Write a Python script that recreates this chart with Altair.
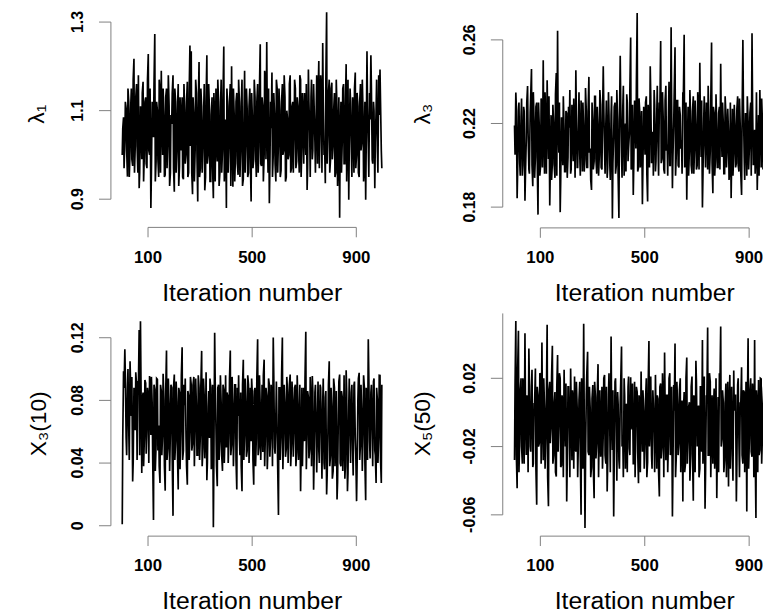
import altair as alt
import pandas as pd

# ---------------- data ----------------
# two interleaved thinnings of the 1000-iteration chains
iterations_a = list(range(1, 1000, 5))
iterations_b = list(range(3, 1000, 5))

# lambda_1, in units of 0.001
lambda1_a = [
    1000, 1085, 1030, 1105, 951, 1120, 1010, 1150, 975, 1217,
    1020, 1160, 960, 925, 1110, 990, 1165, 1005, 1130, 970,
    1228, 1000, 880, 1120, 1040, 1273, 985, 1100, 950, 1140,
    1190, 1000, 1090, 955, 1150, 1030, 1110, 960, 1070, 1180,
    917, 1120, 1010, 1160, 975, 1080, 1130, 945, 1100, 1000,
    1165, 960, 1247, 1234, 911, 1090, 1010, 1140, 895, 1210,
    970, 1110, 1020, 1160, 950, 1225, 1000, 1100, 940, 1130,
    902, 1080, 1150, 985, 1120, 960, 1170, 1010, 1245, 990,
    880, 1110, 1020, 1160, 1200, 928, 1090, 1000, 1140, 955,
    1120, 1010, 1170, 945, 1190, 1030, 1100, 960, 1150, 895,
    1080, 990, 1130, 950, 1160, 1020, 1250, 975, 1110, 1000,
    1170, 1255, 960, 891, 1120, 1186, 1000, 1090, 940, 1150,
    1030, 1100, 965, 1160, 1010, 1130, 950, 1080, 1000, 1180,
    970, 1120, 1040, 1150, 985, 1110, 960, 1170, 1020, 1090,
    1140, 1000, 921, 1193, 1050, 1130, 990, 1160, 1030, 1100,
    980, 1212, 1060, 1140, 1253, 1000, 936, 1322, 1050, 1170,
    990, 1163, 1020, 1140, 960, 1100, 1000, 858, 1120, 1030,
    1160, 980, 1205, 1040, 899, 1150, 1010, 1130, 960, 1186,
    1000, 1110, 950, 1160, 1030, 1090, 975, 899, 1234, 1020,
    1140, 1225, 990, 1120, 925, 1100, 1010, 1180, 1193, 1010,
]
lambda1_b = [
    1060, 970, 1120, 1010, 1150, 950, 1100, 990, 1170, 960,
    1130, 1020, 1180, 960, 1070, 1140, 940, 1120, 980, 1170,
    1010, 1150, 960, 1080, 1160, 940, 1120, 990, 1170, 960,
    1080, 1150, 950, 1130, 970, 1180, 930, 1090, 1140, 970,
    1150, 960, 1100, 930, 1130, 1010, 950, 1160, 980, 1120,
    950, 1140, 1020, 960, 1130, 940, 1170, 1000, 1110, 950,
    1150, 960, 1080, 920, 1120, 980, 1160, 940, 1090, 970,
    1140, 940, 1030, 1170, 930, 1100, 960, 1130, 940, 1080,
    1150, 960, 1120, 930, 1040, 1150, 940, 1120, 980, 1170,
    950, 1110, 930, 1060, 960, 1150, 950, 1110, 990, 1140,
    970, 1170, 1010, 1120, 960, 1150, 980, 1130, 940, 1190,
    990, 1080, 1150, 970, 1060, 950, 1140, 980, 1170, 960,
    1150, 950, 1120, 1000, 1180, 940, 1100, 990, 1160, 960,
    1110, 960, 1170, 970, 1130, 1010, 1180, 950, 1140, 980,
    1060, 1160, 970, 1120, 950, 1170, 1010, 1110, 960, 1180,
    1130, 970, 1180, 960, 1120, 1030, 1170, 980, 1140, 960,
    1150, 990, 1100, 950, 1170, 930, 1130, 1030, 960, 1150,
    980, 1110, 940, 1170, 1020, 1120, 950, 1080, 1150, 970,
    1140, 960, 1120, 1010, 1170, 940, 1120, 1020, 1110, 950,
    1080, 1150, 980, 1100, 1030, 1170, 960, 1090, 1120, 970,
]

# lambda_3, in units of 0.0001
lambda3_a = [
    2190, 2348, 1843, 2260, 2010, 2230, 1950, 2280, 1830, 2120,
    2379, 1980, 2250, 2461, 1900, 2210, 2040, 2300, 1764, 2180,
    2000, 2270, 2502, 1960, 2150, 2407, 2030, 1808, 2240, 2010,
    2200, 1940, 2442, 2644, 2060, 1776, 2230, 2000, 2160, 1970,
    2250, 2040, 2180, 1960, 2290, 2020, 2140, 2455, 1990, 2200,
    2050, 2310, 1970, 2170, 2030, 2260, 1990, 2423, 2080, 1882,
    2210, 2020, 2330, 1960, 2180, 2050, 2290, 1980, 2474, 2070,
    2200, 1940, 2350, 2010, 2240, 1745, 2150, 2300, 2000, 2220,
    1748, 2524, 2060, 2280, 1950, 2200, 2340, 2020, 2150, 2611,
    2000, 1858, 2310, 2080, 2729, 1990, 2250, 2120, 1814, 2280,
    2050, 2330, 1827, 2200, 2474, 2010, 2160, 2360, 1970, 2240,
    2090, 2300, 2595, 2030, 2210, 1960, 2380, 2100, 2250, 2000,
    2660, 1890, 2200, 2565, 2060, 2310, 1990, 2240, 2120, 2350,
    2624, 2010, 1835, 2280, 2070, 2210, 1960, 2330, 2090, 2180,
    2000, 2260, 2490, 2040, 1798, 2220, 2100, 2300, 1980, 2190,
    2070, 2587, 1866, 2250, 2030, 2170, 1990, 2280, 2486, 2040,
    2200, 1960, 2240, 2080, 2150, 1990, 1843, 2270, 2060, 2190,
    2010, 2330, 1970, 2180, 1858, 2600, 2040, 2250, 1950, 2210,
    2090, 2300, 2632, 2000, 2170, 2060, 1882, 2240, 2360, 1990,
    2200, 2050, 2310, 1970, 2150, 2080, 2260, 1990, 2180, 2040,
]
lambda3_b = [
    2050, 2280, 1980, 2300, 1950, 2320, 2000, 2260, 1960, 2300,
    2150, 1960, 2330, 2000, 2350, 1940, 2280, 2020, 2300, 1950,
    2320, 1990, 2150, 2350, 1960, 2240, 2330, 1980, 1930, 2290,
    2000, 2340, 1950, 2200, 2300, 1930, 2120, 2330, 1970, 2260,
    1940, 2280, 2360, 1980, 2150, 2320, 1940, 2240, 1990, 2350,
    1950, 2220, 2300, 1970, 2370, 1990, 2260, 2060, 1930, 2300,
    1980, 2330, 2030, 2280, 1950, 2360, 1990, 2200, 2280, 1960,
    2310, 1990, 2240, 1930, 2330, 2010, 2280, 1960, 2360, 1950,
    2200, 2300, 1940, 2380, 2030, 1970, 2300, 2080, 2370, 1980,
    2290, 2010, 2260, 2400, 1970, 2320, 1990, 2260, 2000, 2200,
    2300, 1960, 2290, 1990, 2330, 2060, 1950, 2290, 2020, 2380,
    1950, 2270, 2010, 2350, 1980, 2310, 2070, 1950, 2400, 2000,
    2300, 2040, 2360, 1950, 2310, 2000, 2280, 2080, 1960, 2330,
    1990, 2300, 2060, 1950, 2360, 2000, 2260, 1960, 2310, 1980,
    2350, 1980, 2240, 2310, 1950, 2330, 1990, 2220, 2380, 1960,
    2300, 2010, 2280, 1950, 2340, 1990, 2250, 1980, 2210, 2300,
    1960, 2330, 1990, 2270, 1930, 2300, 2030, 1950, 2290, 1990,
    2270, 2000, 2320, 1960, 2230, 2290, 1930, 2210, 2330, 1980,
    2250, 1950, 2300, 2050, 1960, 2350, 2010, 1950, 2220, 2320,
    1980, 2290, 2010, 2270, 1950, 2330, 1990, 2220, 2280, 1970,
]

# X_3(10), in units of 0.0001
x3_10_a = [
    10, 986, 1127, 560, 870, 620, 1050, 700, 283, 880,
    610, 900, 923, 1250, 1305, 336, 850, 560, 910, 640,
    820, 955, 580, 780, 36, 870, 520, 934, 640, 273,
    860, 590, 800, 224, 1118, 500, 760, 610, 880, 63,
    965, 540, 790, 231, 850, 600, 1139, 480, 770, 560,
    262, 830, 600, 900, 520, 950, 640, 760, 450, 880,
    580, 1116, 500, 820, 610, 290, 760, 560, 880, 520,
    -10, 1232, 620, 252, 900, 540, 780, 350, 870, 600,
    500, 830, 580, 1118, 520, 760, 610, 900, 231, 700,
    560, 850, 220, 1060, 590, 780, 480, 900, 620, 540,
    820, 262, 880, 560, 1190, 500, 760, 640, 470, 1060,
    600, 830, 520, 900, 580, 760, 1202, 500, 700, 610,
    69, 880, 560, 1202, 620, 780, 490, 850, 600, 965,
    520, 800, 610, 900, 470, 760, 580, 220, 880, 640,
    540, 1238, 600, 820, 490, 760, 955, 230, 850, 580,
    700, 480, 900, 560, 780, 400, 820, 199, 600, 1050,
    450, 760, 350, 880, 520, 168, 700, 965, 380, 820,
    560, 300, 992, 220, 760, 600, 850, 480, 900, 560,
    157, 800, 976, 520, 700, 600, 880, 162, 760, 1190,
    540, 850, 600, 920, 480, 273, 800, 560, 959, 273,
]
x3_10_b = [
    560, 880, 950, 450, 1000, 420, 900, 950, 400, 820,
    980, 420, 880, 450, 920, 800, 380, 930, 460, 880,
    400, 860, 950, 430, 900, 350, 940, 480, 380, 900,
    450, 970, 380, 860, 420, 940, 350, 900, 430, 880,
    420, 920, 460, 880, 360, 960, 420, 900, 940, 380,
    860, 420, 950, 480, 900, 380, 940, 450, 960, 420,
    900, 380, 940, 430, 980, 400, 860, 940, 360, 900,
    430, 920, 380, 880, 420, 960, 450, 900, 400, 960,
    850, 400, 940, 450, 950, 380, 900, 420, 880, 960,
    450, 380, 900, 420, 940, 440, 960, 400, 880, 940,
    420, 860, 380, 950, 450, 960, 420, 900, 960, 380,
    880, 360, 940, 440, 900, 380, 960, 460, 920, 380,
    880, 420, 960, 360, 900, 440, 950, 400, 900, 380,
    920, 440, 880, 380, 960, 420, 900, 460, 380, 880,
    940, 360, 860, 430, 950, 380, 860, 420, 900, 340,
    920, 400, 880, 300, 940, 360, 860, 320, 900, 380,
    880, 300, 940, 380, 860, 280, 920, 400, 860, 350,
    960, 380, 860, 330, 940, 400, 900, 320, 920, 460,
    380, 940, 420, 900, 350, 960, 400, 880, 420, 960,
    430, 900, 380, 940, 450, 880, 400, 960, 430, 900,
]

# X_5(50), in units of 0.0001
x5_50_a = [
    -279, 536, -444, 478, -150, 200, -300, 120, 464, -250,
    80, 375, -200, 150, -320, 50, 258, -541, 100, -180,
    220, 410, -280, 30, -150, 513, -550, 180, -90, 390,
    -250, 120, -376, 336, -60, 200, -310, 60, 250, -200,
    -522, 150, -100, 258, -280, 80, 210, -230, 30, -150,
    180, -600, 60, 520, -677, 100, 355, -250, 20, -320,
    160, -502, 90, -180, 283, -40, -260, 150, -120, 220,
    -300, -463, 100, -90, 445, -220, -609, 180, -50, 120,
    -280, 60, 386, -160, 200, -330, 40, 150, -210, 206,
    -100, -300, 180, -40, 120, -415, 60, 240, -230, 10,
    -180, 200, -290, 419, -60, -250, 130, -120, 220, -330,
    80, -493, 170, -200, 40, 351, -280, 100, -150, 230,
    -60, -609, 160, 404, -250, 50, -180, 200, -90, -522,
    120, -300, 322, -150, 60, -240, 210, -518, 80, 303,
    -200, 40, -330, 150, 425, -120, -564, 100, 497, -250,
    180, -80, -300, 140, -200, -502, 90, 230, 503, -150,
    60, -280, 170, -100, -434, 220, -40, -250, 245, 100,
    -522, 160, -180, 60, 264, -300, 120, -90, -580, 435,
    -150, 200, -260, 80, 425, -619, 40, 190, -220, 196,
    -120, 150, -300, 60, 220, -200, 100, -350, 170, -80,
]
x5_50_b = [
    150, -250, 250, -350, 130, -200, 200, -300, 30, 100,
    -350, 170, -230, 250, -300, 50, -330, 150, -200, 230,
    -300, 0, 200, -330, 70, -380, 130, -180, 210, -300,
    50, -350, 150, -230, 230, -320, 100, -380, 10, 170,
    -300, 150, -380, 50, 130, -330, -200, 180, -380, 70,
    -250, 200, -330, 10, -300, 230, -230, 150, -380, 80,
    -330, 180, -270, 100, -380, 130, -100, -330, 200, -250,
    150, -300, 230, -350, 10, 130, -300, 200, -400, 50,
    -330, 180, -200, -380, 100, 50, -350, 210, -250, 0,
    170, -300, -380, 150, -230, 100, -350, 0, 130, -330,
    70, -380, 150, -200, 210, -330, 50, -350, 0, 100,
    -350, 150, -270, 230, -380, 50, 100, -350, 200, -250,
    150, -330, 10, -380, 180, -250, 130, -350, 70, 0,
    -350, 200, -300, 30, -400, 150, -250, 100, -350, 180,
    0, -380, 150, -230, -300, 210, -350, 70, -250, 230,
    -380, 100, 10, -330, 200, -250, -350, 150, -200, 130,
    -350, 50, -380, 180, 0, -330, 150, -400, 10, 100,
    -300, 200, -380, 50, -250, 130, -350, 180, 0, -330,
    130, -230, 170, -380, -200, 130, -350, -250, 200, -300,
    50, -350, 180, -300, -210, 130, -380, 70, -250, 150,
]

x_ticks = [100, 500, 900]
x_tick_labels = ["100", "500", "900"]
x_title = "Iteration number"

y_ticks = [
    [0.9, 1.1, 1.3],
    [0.18, 0.22, 0.26],
    [0.0, 0.04, 0.08, 0.12],
    [-0.06, -0.02, 0.02],
]
y_tick_labels = [
    ["0.9", "1.1", "1.3"],
    ["0.18", "0.22", "0.26"],
    ["0", "0.04", "0.08", "0.12"],
    ["-0.06", "-0.02", "0.02"],
]
y_titles = ["λ₁", "λ₃", "X₃(10)", "X₅(50)"]

raw = [
    (lambda1_a, lambda1_b, 1000),
    (lambda3_a, lambda3_b, 10000),
    (x3_10_a, x3_10_b, 10000),
    (x5_50_a, x5_50_b, 10000),
]

# ---------------- layout (chart pixels) ----------------
FONT = "Liberation Sans"
GRAY = "#808080"

layout = [
    dict(xr=[141.5, 352], yr=[190, 11], ax=104, bottom=218.5, tx=36, ty=104, ytop=None),
    dict(xr=[538, 749], yr=[198, 29], ax=500, bottom=219, tx=426, ty=104, ytop=None),
    dict(xr=[141.5, 352], yr=[520, 330], ax=104, bottom=530.5, tx=38, ty=417, ytop=None),
    dict(xr=[538, 749], yr=[509, 371], ax=500, bottom=530.5, tx=426, ty=417, ytop=0.058),
]


def panel(i):
    L = layout[i]
    yt = y_ticks[i]
    a, b, unit = raw[i]
    xs = alt.Scale(domain=[x_ticks[0], x_ticks[-1]], range=L["xr"], nice=False, zero=False)
    ys = alt.Scale(domain=[yt[0], yt[-1]], range=L["yr"], nice=False, zero=False)
    X = lambda f: alt.X(f, scale=xs, axis=None)
    Y = lambda f: alt.Y(f, scale=ys, axis=None)

    df = pd.DataFrame(
        {"iter": iterations_a + iterations_b, "v": [v / unit for v in a + b]}
    ).sort_values("iter")
    line = alt.Chart(df).mark_line(color="black", strokeWidth=1.7, clip=True).encode(
        x=X("iter:Q"), y=Y("v:Q"), order="iter:Q"
    )

    xt = pd.DataFrame({"t": x_ticks, "lab": x_tick_labels})
    xline = alt.Chart(pd.DataFrame({"a": [x_ticks[0]], "b": [x_ticks[-1]]})).mark_rule(
        color=GRAY, strokeWidth=1
    ).encode(x=X("a:Q"), x2="b:Q", y=alt.value(L["bottom"]))
    xtk = alt.Chart(xt).mark_rule(color=GRAY, strokeWidth=1).encode(
        x=X("t:Q"), y=alt.value(L["bottom"]), y2=alt.value(L["bottom"] + 10)
    )
    xlab = alt.Chart(xt).mark_text(
        font=FONT, fontWeight="bold", fontSize=17, baseline="middle", color="black"
    ).encode(x=X("t:Q"), y=alt.value(L["bottom"] + 30.5), text="lab:N")
    xtit = alt.Chart(pd.DataFrame({"t": [500], "lab": [x_title]})).mark_text(
        font=FONT, fontSize=25, baseline="alphabetic", color="black"
    ).encode(x=X("t:Q"), y=alt.value(L["bottom"] + 74), text="lab:N")

    ytop = L["ytop"] if L["ytop"] is not None else yt[-1]
    ytdf = pd.DataFrame({"t": yt, "lab": y_tick_labels[i]})
    yline = alt.Chart(pd.DataFrame({"a": [yt[0]], "b": [ytop]})).mark_rule(
        color=GRAY, strokeWidth=1
    ).encode(y=Y("a:Q"), y2="b:Q", x=alt.value(L["ax"]))
    ytk = alt.Chart(ytdf).mark_rule(color=GRAY, strokeWidth=1).encode(
        y=Y("t:Q"), x=alt.value(L["ax"]), x2=alt.value(L["ax"] - 12)
    )
    ylab = alt.Chart(ytdf).mark_text(
        font=FONT, fontWeight="bold", fontSize=16, baseline="middle", align="center",
        angle=270, color="black"
    ).encode(y=Y("t:Q"), x=alt.value(L["ax"] - 33), text="lab:N")
    ytit = alt.Chart(pd.DataFrame({"lab": [y_titles[i]]})).mark_text(
        font=FONT, fontSize=23, baseline="alphabetic", align="center", angle=270, color="black"
    ).encode(x=alt.value(L["tx"]), y=alt.value(L["ty"]), text="lab:N")

    return alt.layer(line, xline, xtk, xlab, xtit, yline, ytk, ylab, ytit)


chart = (
    alt.layer(panel(0), panel(1), panel(2), panel(3))
    .resolve_scale(x="independent", y="independent")
    .properties(width=763, height=608, padding=0, autosize=alt.AutoSizeParams(type="none"))
    .configure_view(stroke=None)
)

chart.save("out.html", embed_options={"renderer": "svg", "actions": False})
